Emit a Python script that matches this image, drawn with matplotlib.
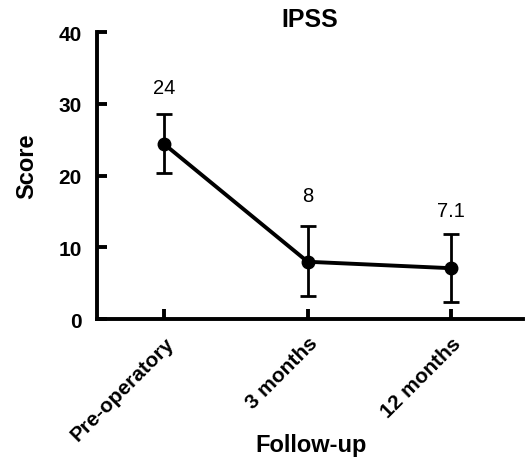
import matplotlib
matplotlib.use("Agg")
import matplotlib.pyplot as plt

categories = ["Pre-operatory", "3 months", "12 months"]
means = [24.4, 8.0, 7.1]
upper = [28.6, 13.0, 11.85]
lower = [20.3, 3.2, 2.4]
labels = ["24", "8", "7.1"]
label_y = [32.3, 17.3, 15.2]
yticks = [0, 10, 20, 30, 40]

plt.rcParams['font.family'] = ['Liberation Sans', 'DejaVu Sans']

fig = plt.figure(figsize=(5.25, 4.6), dpi=100)
ax = fig.add_axes([0.185, 0.304, 0.811, 0.624])

x = list(range(len(categories)))
yerr = [[m - l for m, l in zip(means, lower)], [u - m for m, u in zip(means, upper)]]
ax.errorbar(x, means, yerr=yerr, color='black', linewidth=2.8, marker='o',
            markersize=9, elinewidth=2.0, capsize=5.5, capthick=2.0, zorder=3)

for xi, ly, lab in zip(x, label_y, labels):
    ax.text(xi, ly, lab, ha='center', va='center', fontsize=14.5)

ax.set_xlim(-0.467, 2.50)
ax.set_ylim(0, 40)
ax.set_yticks(yticks)
ax.set_xticks(x)
ax.set_xticklabels(categories, rotation=45, ha='right', rotation_mode='anchor',
                   fontsize=15, fontweight='bold')
ax.set_yticklabels([str(t) for t in yticks], fontsize=15, fontweight='bold')
ax.tick_params(axis='both', direction='in', length=7, width=2.8)
ax.tick_params(axis='y', pad=11)
ax.tick_params(axis='x', pad=10)

for s in ['top', 'right']:
    ax.spines[s].set_visible(False)
for s in ['left', 'bottom']:
    ax.spines[s].set_linewidth(2.8)
    ax.spines[s].set_capstyle('projecting')

ax.set_title("IPSS", fontsize=18, fontweight='bold', y=1.045, va='center', pad=0)
ax.set_ylabel("Score", fontsize=17, fontweight='bold', va='center')
ax.yaxis.set_label_coords(-0.165, 0.537)
ax.set_xlabel("Follow-up", fontsize=17, fontweight='bold', va='center')
ax.xaxis.set_label_coords(0.502, -0.435)

fig.savefig("out.png", dpi=100)
